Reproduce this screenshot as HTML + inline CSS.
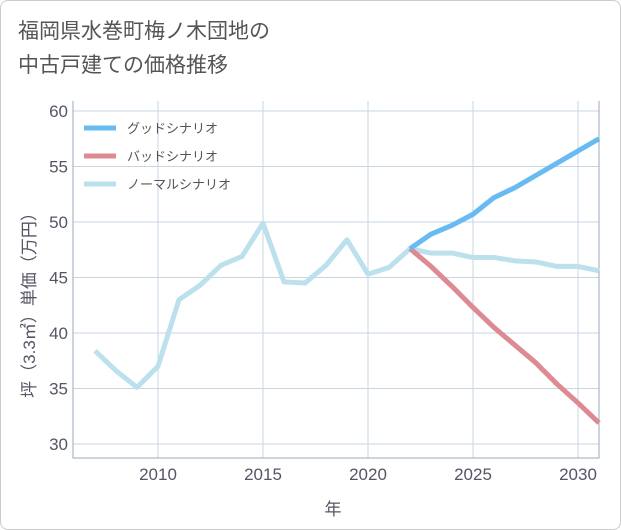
<!DOCTYPE html>
<html><head><meta charset="utf-8"><style>
body{margin:0;background:#fff;font-family:"Liberation Sans","Noto Sans CJK JP",sans-serif;}
#wrap{position:relative;width:619px;height:528px;border:1px solid #ccc;border-radius:8px;background:#fff;overflow:hidden}
#title{position:absolute;left:17px;top:14px;font-size:21px;line-height:34px;color:#555;}
</style></head><body>
<div id="wrap">
<div id="title">福岡県水巻町梅ノ木団地の<br>中古戸建ての価格推移</div>
<svg id="chart" width="621" height="530" style="position:absolute;left:0;top:0"></svg>
</div>
<script>
const years=[2007,2008,2009,2010,2011,2012,2013,2014,2015,2016,2017,2018,2019,2020,2021,2022,2023,2024,2025,2026,2027,2028,2029,2030,2031];
const normal=[38.4,36.6,35.1,37.0,43.0,44.3,46.1,46.9,49.9,44.6,44.5,46.1,48.4,45.3,45.9,47.6,47.2,47.2,46.8,46.8,46.5,46.4,46.0,46.0,45.6];
const fYears=[2022,2023,2024,2025,2026,2027,2028,2029,2030,2031];
const good=[47.6,48.9,49.7,50.7,52.2,53.1,54.2,55.3,56.4,57.5];
const bad=[47.6,46.0,44.2,42.3,40.5,38.9,37.3,35.4,33.7,31.9];
const xTicks=[2010,2015,2020,2025,2030];
const yTicks=[30,35,40,45,50,55,60];
const legendLabels=["グッドシナリオ","バッドシナリオ","ノーマルシナリオ"];
const L=72,R=598,T=100,B=457;
const x=v=>73+(v-2006)*21;
const y=v=>221-(v-50)*11.1;
const svg=document.getElementById('chart');
const NS='http://www.w3.org/2000/svg';
function mk(t,a,p){const e=document.createElementNS(NS,t);for(const k in a)e.setAttribute(k,a[k]);(p||svg).appendChild(e);return e;}
xTicks.forEach(t=>{const l=mk('line',{x1:x(t),x2:x(t),y1:T,y2:B,stroke:'#c8d6e4','stroke-width':1});


const tx=mk('text',{x:x(t),y:479,'text-anchor':'middle','font-size':17,fill:'#556'});tx.textContent=t;

});
yTicks.forEach(t=>{const l=mk('line',{x1:L,x2:R,y1:y(t),y2:y(t),stroke:'#c8d6e4','stroke-width':1});


const tx=mk('text',{x:67,y:y(t)+6,'text-anchor':'end','font-size':17,fill:'#556'});tx.textContent=t;

});
const ax=mk('path',{d:`M${L},${T}V${B}H${R}V${T}`,fill:'none',stroke:'#9aaabb','stroke-width':1});


function line(xs,vs,c,name){const p=mk('polyline',{points:xs.map((v,i)=>x(v)+','+y(vs[i])).join(' '),fill:'none',stroke:c,'stroke-width':5,'stroke-linejoin':'round'});

}
line(years,normal,'#bde0ed','normal-scenario-line');
line(fYears,bad,'#de8a92','bad-scenario-line');
line(fYears,good,'#68baf2','good-scenario-line');
const lc=['#68baf2','#de8a92','#bde0ed'];
legendLabels.forEach((s,i)=>{const yy=127+i*28;
const l=mk('line',{x1:83,x2:115,y1:yy,y2:yy,stroke:lc[i],'stroke-width':5});


const t=mk('text',{x:126,y:yy+5,'font-size':13,fill:'#555'});t.textContent=s;

});
const xl=mk('text',{x:332,y:514,'text-anchor':'middle','font-size':17,fill:'#556'});xl.textContent='年';


const yl=mk('text',{x:0,y:0,'text-anchor':'middle','font-size':17,fill:'#556',transform:'translate(34,300) rotate(-90)'});yl.textContent='坪（3.3㎡）単価（万円）';


</script>
</body></html>
